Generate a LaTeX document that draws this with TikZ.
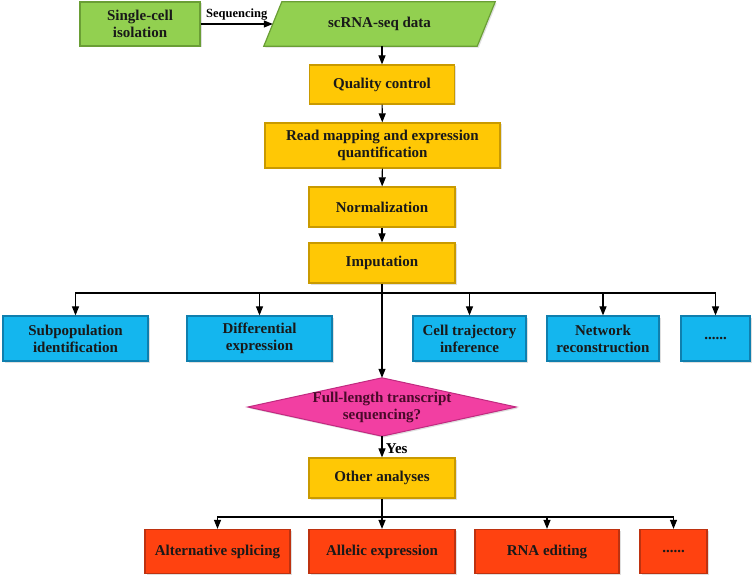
\documentclass[tikz,border=0pt]{standalone}
\usepackage{fontspec}
\setmainfont{Liberation Serif}
\usetikzlibrary{arrows.meta,shadows,backgrounds}
\definecolor{cgreen}{HTML}{92D050}
\definecolor{cgreenb}{HTML}{6A9E35}
\definecolor{cyellow}{HTML}{FFC805}
\definecolor{cyellowb}{HTML}{C99A00}
\definecolor{cblue}{HTML}{14B6EE}
\definecolor{cblueb}{HTML}{0F7FAE}
\definecolor{cred}{HTML}{FF4210}
\definecolor{credb}{HTML}{BE3210}
\definecolor{cpink}{HTML}{F23FA2}
\definecolor{cpinkb}{HTML}{C02A80}
\definecolor{cmaroon}{HTML}{4A0A2A}
\begin{document}
\begin{tikzpicture}[x=1pt,y=-1pt,
  shd/.style={drop shadow={shadow xshift=1.5pt,shadow yshift=-1.5pt,opacity=0.25}},
  txt/.style={align=center,font=\fontsize{15}{17}\selectfont\bfseries,text=black!90,inner sep=2pt},
  gbox/.style={txt,draw=cgreenb,fill=cgreen,line width=1.2pt,shd},
  ybox/.style={txt,draw=cyellowb,fill=cyellow,line width=1.2pt,shd},
  bbox/.style={txt,draw=cblueb,fill=cblue,line width=1.2pt,shd},
  rbox/.style={txt,draw=credb,fill=cred,line width=1.2pt,shd},
  arr/.style={-{Triangle[length=9pt,width=7pt]},line width=1.1pt},
  ln/.style={line width=1.1pt}]
\useasboundingbox (0,0) rectangle (755,580);

% top row
\node[gbox,minimum width=120pt,minimum height=44pt] (sci) at (140,24) {Single-cell\\isolation};
\node[txt,minimum width=213pt,minimum height=44pt] (scrna) at (379.5,24) {scRNA-seq data};
\begin{scope}[on background layer]
\draw[draw=cgreenb,fill=cgreen,line width=1.2pt,shd]
  ([xshift=-9pt]scrna.south west) -- ([xshift=-9pt]scrna.south east)
  -- ([xshift=9pt]scrna.north east) -- ([xshift=9pt]scrna.north west) -- cycle;
\end{scope}

% main column
\node[ybox,minimum width=145pt,minimum height=39pt] (qc) at (382,84.5) {Quality control};
\node[ybox,minimum width=235pt,minimum height=45pt] (rm) at (382.5,145.5) {Read mapping and expression\\quantification};
\node[ybox,minimum width=146pt,minimum height=40pt] (norm) at (382,207) {Normalization};
\node[ybox,minimum width=146pt,minimum height=40pt] (imp) at (382,263) {Imputation};

% blue row
\node[bbox,minimum width=145pt,minimum height=45pt] (sub) at (75.5,338.5) {Subpopulation\\identification};
\node[bbox,minimum width=145pt,minimum height=45pt] (diff) at (259.5,338.5) {Differential\\expression};
\node[bbox,minimum width=113pt,minimum height=45pt] (traj) at (469.5,338.5) {Cell trajectory\\inference};
\node[bbox,minimum width=112pt,minimum height=45pt] (net) at (603,338.5) {Network\\reconstruction};
\node[bbox,minimum width=69pt,minimum height=45pt] (dots1) at (715.5,338.5) {......};

% diamond
\node[txt,text=cmaroon,minimum width=268pt,minimum height=58pt] (dia) at (382,407) {Full-length transcript\\sequencing?};
\begin{scope}[on background layer]
\draw[draw=cpinkb,fill=cpink,line width=1pt,shd]
  (dia.north) -- (dia.east) -- (dia.south) -- (dia.west) -- cycle;
\end{scope}

\node[ybox,minimum width=146pt,minimum height=40pt] (oth) at (382,478) {Other analyses};

% red row
\node[rbox,minimum width=145pt,minimum height=44pt] (alt) at (217.5,551.5) {Alternative splicing};
\node[rbox,minimum width=146pt,minimum height=44pt] (all) at (382,551.5) {Allelic expression};
\node[rbox,minimum width=144pt,minimum height=44pt] (rna) at (547,551.5) {RNA editing};
\node[rbox,minimum width=67pt,minimum height=44pt] (dots2) at (673.5,551.5) {......};

% connectors
\draw[arr] (sci) -- node[above=0pt,font=\fontsize{12.5}{13}\selectfont\bfseries]{Sequencing} (scrna);
\draw[arr] (qc.north |- scrna.south) -- (qc.north);
\draw[arr] (qc) -- (rm);
\draw[arr] (rm) -- (norm);
\draw[arr] (norm) -- (imp);
\draw[arr] (imp) -- (dia);
\coordinate (j1) at (382,293);
\draw[ln] (sub.north |- j1) -- (dots1.north |- j1);
\draw[arr] (j1) -| (sub.north);
\draw[arr] (j1) -| (diff.north);
\draw[arr] (j1) -| (traj.north);
\draw[arr] (j1) -| (net.north);
\draw[arr] (j1) -| (dots1.north);
\draw[arr] (dia) -- node[pos=0.6,right=0pt,font=\fontsize{15}{17}\selectfont\bfseries]{Yes} (oth);
\draw[arr] (oth) -- (all);
\coordinate (j2) at (382,517);
\draw[ln] (alt.north |- j2) -- (dots2.north |- j2);
\draw[arr] (j2) -| (alt.north);
\draw[arr] (j2) -| (rna.north);
\draw[arr] (j2) -| (dots2.north);
\end{tikzpicture}
\end{document}
